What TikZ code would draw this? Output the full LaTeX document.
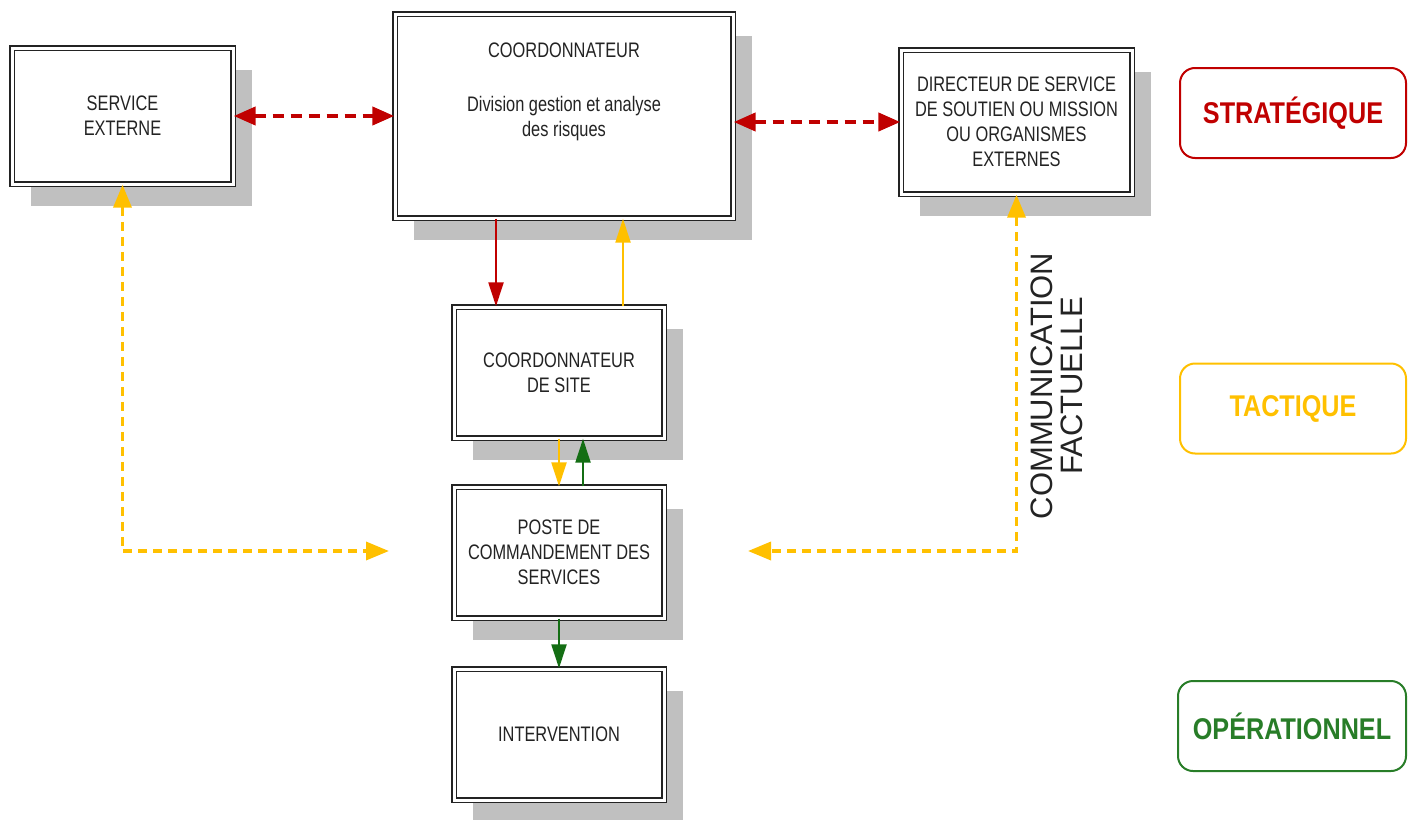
\documentclass[tikz,border=0pt]{standalone}
\usepackage{fontspec}
\setmainfont{Liberation Sans}
\newfontfamily\narrowfont{Liberation Sans}[FakeStretch=0.78]
\newfontfamily\levelfont{Liberation Sans}[FakeStretch=0.84]
\usetikzlibrary{arrows.meta,shadows}
\definecolor{redc}{RGB}{192,0,0}
\definecolor{yelc}{RGB}{255,192,0}
\definecolor{grnc}{RGB}{20,110,20}
\definecolor{lvlgrn}{RGB}{40,125,40}
\definecolor{shadowc}{RGB}{192,192,192}
\definecolor{txtc}{RGB}{35,35,35}
\definecolor{brdc}{RGB}{35,35,35}
\tikzset{
  stdbox/.style={draw=brdc, line width=1.4pt, double=white, double distance=3pt,
    fill=white, rectangle, inner sep=0pt, align=center, text=txtc,
    font=\narrowfont\fontsize{21}{25}\selectfont,
    drop shadow={shadow xshift=19pt, shadow yshift=-22pt, fill=shadowc, opacity=1}},
  boxtext/.style={align=center, text=txtc, inner sep=0pt,
    font=\narrowfont\fontsize{21}{25}\selectfont},
  levelbox/.style={draw=#1, text=#1, line width=2pt, rounded corners=15pt,
    minimum width=226pt, minimum height=90pt, inner sep=0pt,
    font=\levelfont\bfseries\fontsize{30}{30}\selectfont},
  reddash/.style={draw=redc, line width=4.2pt, dash pattern=on 11pt off 7pt,
    {Triangle[length=22pt,width=18pt]}-{Triangle[length=22pt,width=18pt]}},
  yeldash/.style={draw=yelc, line width=3.5pt, dash pattern=on 9pt off 6pt,
    {Triangle[length=23pt,width=18pt]}-{Triangle[length=23pt,width=18pt]}},
  solidarrow/.style={draw=#1, line width=2.2pt, -{Triangle[length=24pt,width=15pt]}},
}
\begin{document}
\begin{tikzpicture}[x=1pt,y=-1pt]
\useasboundingbox (0,0) rectangle (1418,819);

% boxes
\node[stdbox, minimum width=221pt, minimum height=136pt] (SE) at (122.5,116) {SERVICE\\EXTERNE};
\node[stdbox, minimum width=338pt, minimum height=204pt] (CO) at (564,116) {};
\node[boxtext, anchor=north] (COt) at (564,43) {COORDONNATEUR\\[29pt]Division gestion et analyse\\des risques};
\node[stdbox, minimum width=231pt, minimum height=144pt] (DI) at (1016.5,122)
  {DIRECTEUR DE SERVICE\\DE SOUTIEN OU MISSION\\OU ORGANISMES\\EXTERNES};
\node[stdbox, minimum width=210pt, minimum height=131pt] (CS) at (559,372.5) {COORDONNATEUR\\DE SITE};
\node[stdbox, minimum width=210pt, minimum height=131pt] (PC) at (559,552.5) {POSTE DE\\COMMANDEMENT DES\\SERVICES};
\node[stdbox, minimum width=210pt, minimum height=131pt] (IN) at (559,734.5) {INTERVENTION};

% level boxes
\node[levelbox=redc] (STR) at (1293,113) {STRATÉGIQUE};
\node[levelbox=yelc] (TAC) at (1293,408.5) {TACTIQUE};
\node[levelbox=lvlgrn, minimum width=228pt] (OPE) at (1292,726) {OPÉRATIONNEL};

% rotated label
\node[rotate=90, align=center, text=txtc, inner sep=0pt,
  font=\fontsize{31}{30}\selectfont] (COM) at (1057,386) {COMMUNICATION\\FACTUELLE};

% helper coordinates
\coordinate (xr) at (496,0);
\coordinate (xy) at (623,0);
\coordinate (xg) at (583,0);
\coordinate (yl) at (389,551);
\coordinate (yr) at (748,551);

% connectors
\draw[reddash] (SE.east) -- (CO.west);
\draw[reddash] (CO.east |- DI.west) -- (DI.west);
\draw[solidarrow=redc] (CO.south -| xr) -- (CS.north -| xr);
\draw[solidarrow=yelc] (CS.north -| xy) -- (CO.south -| xy);
\draw[solidarrow=yelc] (CS.south) -- (PC.north);
\draw[solidarrow=grnc] (PC.north -| xg) -- (CS.south -| xg);
\draw[solidarrow=grnc] (PC.south) -- (IN.north);
\draw[yeldash] (SE.south) |- (yl);
\draw[yeldash] (DI.south) |- (yr);
\end{tikzpicture}
\end{document}
